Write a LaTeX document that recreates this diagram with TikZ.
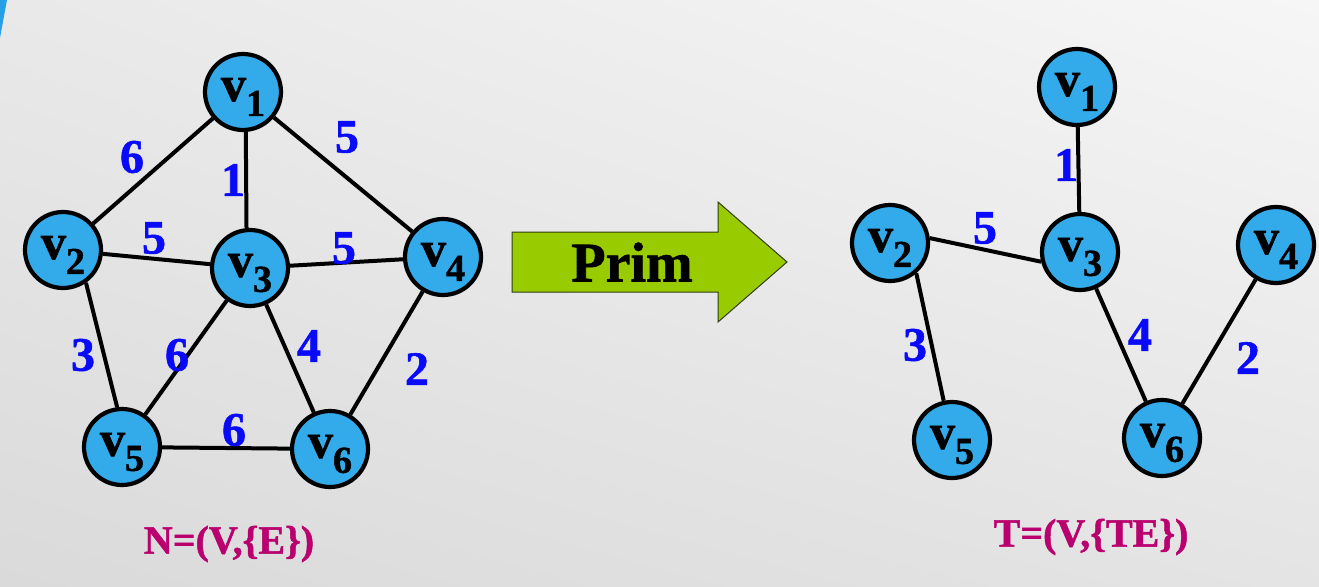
\documentclass[tikz,border=0pt]{standalone}
\usepackage{fontspec}
\setmainfont{Liberation Serif}
\newfontfamily\heavy{Liberation Serif Bold}[FakeBold=1.2]
\usetikzlibrary{shadings}
\definecolor{nodeblue}{RGB}{51,171,235}
\definecolor{labblue}{RGB}{10,10,250}
\definecolor{magtext}{RGB}{186,0,110}
\definecolor{arrowgreen}{RGB}{153,204,0}
\definecolor{arrowedge}{RGB}{50,60,20}
\definecolor{slideblue}{RGB}{40,160,230}
\newcommand{\vlab}[1]{\fontsize{50}{50}\selectfont\heavy v\raisebox{-0.3em}{\fontsize{38}{38}\selectfont #1}}
\begin{document}
\begin{tikzpicture}[x=1pt,y=-1pt,
  vert/.style={circle,draw=black,line width=4.2pt,fill=nodeblue,minimum size=76pt,inner sep=0pt},
  vtext/.style={inner sep=0pt,yshift=-5pt},
  edge/.style={line width=4pt,draw=black},
  wlab/.style={text=labblue,font=\fontsize{48}{48}\selectfont\heavy,inner sep=0pt},
  tlab/.style={text=magtext,font=\fontsize{40}{40}\selectfont\heavy,inner sep=0pt}]
\useasboundingbox (0,0) rectangle (1319,586);
\shade[upper left={rgb,255:red,233;green,233;blue,233},upper right={rgb,255:red,246;green,246;blue,246},
  lower left={rgb,255:red,218;green,218;blue,218},lower right={rgb,255:red,228;green,228;blue,228}]
  (0,0) rectangle (1319,586);
\fill[slideblue] (0,0) -- (7,0) -- (0,38) -- cycle;
% left graph
\node[vert,label={[vtext]center:\vlab{1}}] (a1) at (243,92) {};
\node[vert,label={[vtext]center:\vlab{2}}] (a2) at (63,250) {};
\node[vert,label={[vtext]center:\vlab{3}}] (a3) at (250,268) {};
\node[vert,label={[vtext]center:\vlab{4}}] (a4) at (443,257) {};
\node[vert,label={[vtext]center:\vlab{5}}] (a5) at (122,447) {};
\node[vert,label={[vtext]center:\vlab{6}}] (a6) at (330,449) {};
\draw[edge] (a1) -- (a2);
\draw[edge] (a1.-86) -- (a3.95);
\draw[edge] (a1) -- (a4);
\draw[edge] (a2) -- (a3);
\draw[edge] (a3) -- (a4);
\draw[edge] (a2.-55) -- (a5.97);
\draw[edge] (a3) -- (a5);
\draw[edge] (a3) -- (a6);
\draw[edge] (a4) -- (a6);
\draw[edge] (a5) -- (a6);
\node[wlab] (l12) at (132,157) {6};
\node[wlab] (l13) at (233,180) {1};
\node[wlab] (l14) at (347,137) {5};
\node[wlab] (l23) at (154,238) {5};
\node[wlab] (l34) at (344,248) {5};
\node[wlab] (l25) at (83,355) {3};
\node[wlab] (l35) at (177,355) {6};
\node[wlab] (l36) at (309,346) {4};
\node[wlab] (l46) at (417,369) {2};
\node[wlab] (l56) at (234,430) {6};
\node[tlab] (nlab) at (229,544) {N=(V,\{E\})};
% arrow
\filldraw[fill=arrowgreen,draw=arrowedge,line width=1pt]
  (512,232) -- (718,232) -- (718,202) -- (787,262) -- (718,322) -- (718,292) -- (512,292) -- cycle;
\node[font=\fontsize{56}{56}\selectfont\heavy,inner sep=0pt] (prim) at (632,262) {Prim};
% right graph
\node[vert,label={[vtext]center:\vlab{1}}] (b1) at (1077,87) {};
\node[vert,label={[vtext]center:\vlab{2}}] (b2) at (890,243) {};
\node[vert,label={[vtext]center:\vlab{3}}] (b3) at (1080,252) {};
\node[vert,label={[vtext]center:\vlab{4}}] (b4) at (1276,245) {};
\node[vert,label={[vtext]center:\vlab{5}}] (b5) at (952,440) {};
\node[vert,label={[vtext]center:\vlab{6}}] (b6) at (1162,438) {};
\draw[edge] (b1) -- (b3);
\draw[edge] (b2.7) -- (b3.194);
\draw[edge] (b2.-49) -- (b5.102);
\draw[edge] (b3) -- (b6);
\draw[edge] (b4) -- (b6);
\node[wlab] (r13) at (1066,165) {1};
\node[wlab] (r23) at (985,228) {5};
\node[wlab] (r25) at (915,345) {3};
\node[wlab] (r36) at (1140,335) {4};
\node[wlab] (r46) at (1248,358) {2};
\node[tlab] (tlabel) at (1091,537) {T=(V,\{TE\})};
\end{tikzpicture}
\end{document}
